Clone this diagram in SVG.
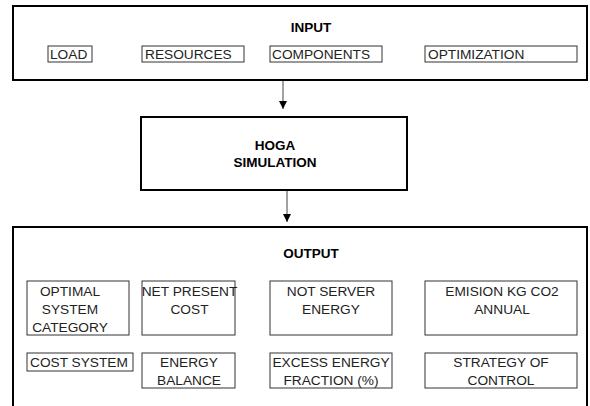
<svg xmlns="http://www.w3.org/2000/svg" width="590" height="406" viewBox="0 0 590 406">
<style>
.outer{fill:#fff;stroke:#000;stroke-width:2}
.box{fill:#fff;stroke:#333;stroke-width:1}
.t{font-family:"Liberation Sans",Arial,sans-serif;font-size:13.7px;fill:#222}
.c{text-anchor:middle}
.b{font-weight:bold;font-size:13.5px;fill:#000}
.conn{stroke:#444;stroke-width:1;fill:none}
</style>
<defs>
<marker id="ah" viewBox="0 0 10 10" refX="10" refY="5" markerWidth="8" markerHeight="8" markerUnits="userSpaceOnUse" orient="auto">
<path d="M0,0 L10,5 L0,10 Z" fill="#000"/>
</marker>
</defs>
<rect width="590" height="406" fill="#fff"/>
<g id="input">
<rect class="outer" x="13" y="6" width="574" height="74"/>
<text class="t c b" x="311" y="32">INPUT</text>
<g id="load"><rect class="box" x="48" y="46" width="44" height="16"/><text class="t" x="50" y="58.5">LOAD</text></g>
<g id="resources"><rect class="box" x="142" y="46" width="102" height="16"/><text class="t" x="145" y="58.5">RESOURCES</text></g>
<g id="components"><rect class="box" x="270" y="46" width="112" height="16"/><text class="t" x="272" y="58.5">COMPONENTS</text></g>
<g id="optimization"><rect class="box" x="425" y="46" width="152" height="16"/><text class="t" x="428" y="58.5">OPTIMIZATION</text></g>
</g>
<g id="hoga">
<rect class="outer" x="141" y="117" width="266" height="73"/>
<text class="t c b" x="275" y="150">HOGA</text>
<text class="t c b" x="275" y="167">SIMULATION</text>
</g>
<g id="output">
<rect class="outer" x="13" y="227" width="574" height="190"/>
<text class="t c b" x="311" y="258">OUTPUT</text>
<g id="optimal"><rect class="box" x="27" y="281" width="102" height="54"/>
<text class="t c" x="70" y="296">OPTIMAL</text><text class="t c" x="70" y="314">SYSTEM</text><text class="t c" x="70" y="332">CATEGORY</text></g>
<g id="npc"><rect class="box" x="142" y="281" width="93" height="54"/>
<text class="t c" x="189.5" y="296">NET PRESENT</text><text class="t c" x="189.5" y="314">COST</text></g>
<g id="nse"><rect class="box" x="270" y="281" width="122" height="54"/>
<text class="t c" x="331" y="296">NOT SERVER</text><text class="t c" x="331" y="314">ENERGY</text></g>
<g id="emision"><rect class="box" x="425" y="281" width="152" height="54"/>
<text class="t c" x="502" y="296">EMISION KG CO2</text><text class="t c" x="502" y="314">ANNUAL</text></g>
<g id="cost"><rect class="box" x="27" y="353" width="106" height="18"/>
<text class="t" x="30" y="367">COST SYSTEM</text></g>
<g id="balance"><rect class="box" x="142" y="353" width="93" height="35"/>
<text class="t c" x="189" y="367">ENERGY</text><text class="t c" x="189" y="385">BALANCE</text></g>
<g id="excess"><rect class="box" x="270" y="353" width="122" height="35"/>
<text class="t c" x="331" y="367">EXCESS ENERGY</text><text class="t c" x="331" y="385">FRACTION (%)</text></g>
<g id="strategy"><rect class="box" x="425" y="353" width="152" height="35"/>
<text class="t c" x="501" y="367">STRATEGY OF</text><text class="t c" x="501" y="385">CONTROL</text></g>
</g>
<g id="connectors">
<line class="conn" x1="283" y1="81" x2="283" y2="109" marker-end="url(#ah)"/>
<line class="conn" x1="287" y1="191" x2="287" y2="222" marker-end="url(#ah)"/>
</g>
</svg>
